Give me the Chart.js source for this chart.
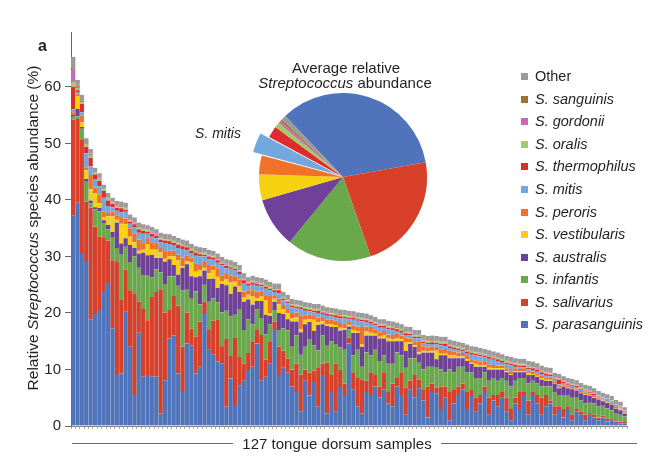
<!DOCTYPE html>
<html>
<head>
<meta charset="utf-8">
<script src="https://cdn.jsdelivr.net/npm/chart.js@4.4.1/dist/chart.umd.min.js"></script>
<style>
  html, body { margin: 0; padding: 0; background: #fff; }
  #wrap { position: relative; width: 655px; height: 465px; overflow: hidden; }
  #main { position: absolute; left: 0; top: 0; }
  #pie { position: absolute; left: 243px; top: 77px; }
  .t { position: absolute; font-family: 'Liberation Sans', Arial, Helvetica, sans-serif; color: #231f20; white-space: nowrap; line-height: 1; }
  .c { transform: translate(-50%, -50%); }
  .sw { position: absolute; width: 7px; height: 7px; }
  .hl { position: absolute; height: 1px; background: #666; }
</style>
</head>
<body>
<div id="wrap">
  <canvas id="main" width="655" height="465"></canvas>
  <canvas id="pie" width="200" height="200"></canvas>
  <div class="t" style="left:38px;top:38px;font-size:16px;font-weight:bold;">a</div>
  <div class="t" style="left:33px;top:228px;font-size:15.5px;transform:translate(-50%,-50%) rotate(-90deg);">Relative <i>Streptococcus</i> species abundance (%)</div>
  <div class="t c" style="left:346px;top:67px;font-size:15px;">Average relative</div>
  <div class="t c" style="left:345px;top:82px;font-size:15px;"><i>Streptococcus</i> abundance</div>
  <div class="t c" style="left:218px;top:133px;font-size:14px;font-style:italic;">S. mitis</div>
  <div class="hl" style="left:72px;top:443px;width:161px;"></div>
  <div class="hl" style="left:441px;top:443px;width:196px;"></div>
  <div class="t c" style="left:337px;top:443px;font-size:15px;">127 tongue dorsum samples</div>
  <div id="legend"></div>
</div>
<script>
// ---------- DATA ----------
const samples = [1,2,3,4,5,6,7,8,9,10,11,12,13,14,15,16,17,18,19,20,21,22,23,24,25,26,27,28,29,30,31,32,33,34,35,36,37,38,39,40,41,42,43,44,45,46,47,48,49,50,51,52,53,54,55,56,57,58,59,60,61,62,63,64,65,66,67,68,69,70,71,72,73,74,75,76,77,78,79,80,81,82,83,84,85,86,87,88,89,90,91,92,93,94,95,96,97,98,99,100,101,102,103,104,105,106,107,108,109,110,111,112,113,114,115,116,117,118,119,120,121,122,123,124,125,126,127];

const parasanguinis = [37.2,39.5,30.6,29.2,18.9,19.8,20.5,23.9,25.3,17.3,
 9.0,9.3,20.2,14.0,5.5,16.5,8.7,9.0,8.8,8.7,
 2.2,8.1,15.5,16.0,9.3,6.0,14.6,14.2,9.3,10.5,
 20.0,13.5,12.6,11.4,11.1,3.4,8.4,3.7,7.2,8.0,
 9.9,10.5,14.6,8.1,8.7,11.0,17.0,9.0,10.3,9.4,
 7.0,6.0,2.6,8.0,5.4,7.8,3.4,9.0,2.2,6.0,
 2.5,6.9,5.5,14.6,6.5,3.5,2.2,6.0,5.5,7.0,
 5.0,6.5,4.0,3.5,7.0,5.5,2.0,6.5,5.0,6.7,
 4.5,1.5,6.0,5.8,3.0,5.0,1.0,4.0,5.5,6.5,
 3.0,5.5,2.5,4.0,6.0,2.0,4.5,3.5,5.0,2.5,
 1.0,4.0,3.0,5.5,2.0,5.5,4.0,2.0,3.5,4.0,
 2.0,3.0,1.5,3.0,1.0,2.5,2.0,1.0,2.0,1.5,
 1.0,1.5,0.8,1.0,0.8,0.5,0.5];

const salivarius = [17.0,14.8,20.0,10.5,19.7,15.5,13.0,9.5,7.5,12.0,
 20.0,13.0,7.5,10.0,18.0,5.5,12.0,9.7,14.0,15.0,
 22.0,12.0,5.0,7.0,12.0,8.0,5.5,3.0,6.5,8.0,
 2.0,3.5,6.0,7.5,3.0,12.0,4.0,12.0,5.0,3.0,
 3.0,4.5,2.5,8.0,3.0,4.0,1.5,5.0,3.0,2.5,
 3.0,5.0,6.5,2.0,4.0,2.0,7.0,2.0,9.0,3.0,
 8.5,3.0,2.0,1.0,3.0,5.0,6.0,2.0,4.0,2.0,
 2.0,3.0,2.0,4.0,1.5,4.0,4.8,1.5,4.0,1.5,
 2.0,5.5,1.5,1.0,4.0,2.0,5.0,2.5,1.5,1.0,
 3.0,1.0,2.5,1.5,1.0,3.0,1.0,2.0,1.0,2.5,
 2.0,1.0,3.0,0.5,2.5,0.5,1.5,3.0,2.0,0.5,
 1.5,0.5,1.5,0.5,1.0,0.5,0.5,1.0,0.3,0.5,
 0.5,0.3,0.5,0.3,0.2,0.3,0.2];

const infantis = [0.5,0.5,2.0,3.5,0.8,3.0,4.5,2.5,2.0,4.0,
 2.5,8.0,4.0,5.0,6.5,6.0,6.0,8.0,3.5,4.0,
 3.0,5.0,6.0,3.5,3.5,10.0,4.0,5.3,8.0,3.0,
 3.0,5.0,4.0,3.0,6.0,5.0,7.0,4.0,8.5,6.0,
 6.0,3.0,3.5,3.0,4.5,3.0,2.0,3.0,4.0,5.0,
 4.0,5.0,3.5,4.0,6.0,4.5,3.0,5.0,3.0,6.0,
 3.5,4.0,6.0,1.5,3.0,5.0,2.3,5.0,3.0,4.5,
 4.5,3.0,5.0,3.5,4.5,3.0,3.5,4.0,3.0,3.0,
 3.5,3.5,3.0,3.5,3.0,2.5,4.0,3.0,3.5,3.0,
 3.5,3.0,3.5,3.0,2.5,3.0,3.0,2.5,2.5,3.0,
 4.0,3.0,2.5,2.5,3.0,2.0,2.0,2.0,1.5,2.5,
 2.5,2.0,2.5,2.0,3.0,2.0,2.0,2.0,1.8,2.0,
 2.0,1.8,1.8,1.5,1.3,1.2,1.0];

const australis = [0.3,1.3,0.3,0.5,0.5,0.4,0.6,0.5,0.8,1.0,
 4.5,2.0,1.5,3.0,1.5,2.5,4.0,3.5,4.0,2.0,
 2.5,4.0,3.0,2.0,2.0,4.0,4.5,4.0,2.5,5.0,
 2.5,4.0,3.5,2.5,5.0,4.5,4.0,5.0,3.0,5.0,
 3.5,3.5,1.5,3.0,3.5,1.5,1.5,3.0,2.5,2.0,
 4.5,2.5,4.0,4.0,3.0,2.5,4.5,2.0,3.5,2.5,
 3.0,3.0,3.5,0.5,4.0,3.0,3.5,3.0,3.5,2.5,
 4.0,3.0,4.0,4.0,2.0,2.5,3.0,2.5,2.0,1.5,
 3.0,2.5,2.5,1.5,2.5,3.0,2.0,2.5,1.5,1.5,
 2.0,1.5,2.0,2.0,1.0,2.0,1.5,2.0,1.5,1.5,
 2.0,1.5,1.0,1.0,1.5,1.0,1.2,1.2,1.0,1.0,
 1.5,1.2,1.5,1.2,1.5,1.3,1.3,1.5,1.3,1.0,
 1.2,0.8,1.0,1.0,0.8,0.8,0.5];

const vestibularis = [0.0,2.3,0.8,1.5,2.0,2.5,0.8,0.5,1.5,2.8,
 0.5,3.5,2.5,1.5,1.0,0.5,0.5,2.0,1.0,1.5,
 1.0,0.5,0.5,1.5,2.5,0.3,0.5,2.5,1.0,1.0,
 0.5,1.0,1.5,2.0,0.5,1.0,2.0,0.8,1.0,0.8,
 0.8,1.5,0.5,0.8,2.5,0.5,0.5,1.5,0.8,1.0,
 0.5,0.8,0.5,0.8,0.5,2.0,0.5,0.5,0.3,0.5,
 0.3,0.5,0.3,0.3,0.5,0.3,0.5,0.8,0.5,0.3,
 0.3,0.5,0.5,0.3,0.5,0.3,1.5,0.3,0.3,0.3,
 0.3,0.2,0.3,1.5,0.3,0.3,0.5,0.5,0.3,0.3,
 0.3,0.2,0.5,0.3,0.2,0.3,0.2,0.2,0.2,0.2,
 0.2,0.2,0.2,0.2,0.3,0.2,0.2,0.3,0.2,0.2,
 0.1,0.2,0.1,0.1,0.1,0.1,0.1,0.1,0.1,0.1,
 0.1,0.1,0.1,0.1,0.1,0.1,0.1];

const peroris = [0.5,0.3,1.2,0.5,2.5,1.0,1.5,1.0,0.6,0.8,
 0.8,1.0,1.0,1.5,1.5,2.0,1.0,1.0,1.2,1.0,
 0.8,1.2,1.0,1.0,1.0,1.5,1.0,0.8,1.5,1.0,
 1.0,1.5,0.8,1.5,1.0,1.0,1.2,1.0,1.2,1.0,
 0.8,1.0,1.2,0.8,0.8,3.0,0.5,1.0,0.8,0.8,
 1.0,0.8,2.5,0.8,0.8,0.8,0.8,0.8,0.8,0.8,
 0.8,0.8,0.8,0.5,0.8,0.8,3.0,0.8,1.0,0.8,
 0.8,0.8,0.7,0.8,0.8,0.7,0.8,0.7,0.7,2.0,
 0.8,0.7,0.7,0.7,0.7,0.8,0.8,0.7,0.7,0.6,
 0.6,0.6,0.6,0.6,0.6,0.6,0.6,0.5,0.5,0.5,
 0.5,0.5,0.4,0.5,0.4,0.4,0.4,0.4,0.4,0.3,
 0.3,0.3,0.3,0.3,0.3,0.3,0.3,0.3,0.2,0.2,
 0.2,0.2,0.2,0.2,0.2,0.2,0.1];

const mitis = [0.5,0.4,0.6,2.5,1.5,1.5,1.5,2.5,1.2,0.8,
 0.8,1.0,1.2,0.8,1.2,1.2,1.8,0.8,1.0,1.0,
 1.0,1.5,1.2,1.0,1.2,1.5,1.0,0.8,1.3,1.5,
 1.0,1.0,1.0,1.0,1.8,1.0,1.2,1.0,1.0,1.5,
 0.8,1.0,1.0,1.0,1.3,1.0,0.7,1.0,0.8,1.0,
 1.0,0.7,1.0,0.8,0.6,0.5,0.8,0.5,0.7,0.6,
 0.7,0.8,0.9,0.5,1.0,1.0,1.0,0.7,0.6,0.7,
 0.8,0.6,0.9,0.8,0.5,0.5,0.5,0.5,0.5,0.5,
 0.5,0.5,0.5,0.4,0.8,0.5,0.5,0.4,0.4,0.3,
 0.5,0.8,0.9,0.9,0.8,1.0,0.9,0.8,0.5,0.7,
 1.0,0.3,0.3,0.2,0.3,0.3,0.3,0.3,0.3,0.3,
 0.3,0.2,0.2,0.2,0.2,0.2,0.2,0.2,0.2,0.2,
 0.2,0.2,0.2,0.2,0.2,0.2,0.1];

const thermophilus = [4.0,0.3,1.5,1.2,1.5,0.8,1.0,1.2,1.0,0.6,
 0.5,0.7,0.4,0.3,0.5,0.6,0.5,0.4,0.5,0.4,
 0.5,0.5,0.5,0.4,0.6,0.5,0.5,0.4,0.5,0.4,
 0.3,0.5,0.4,0.4,0.3,0.4,0.3,0.3,0.4,0.5,
 0.3,0.4,0.3,0.3,0.4,0.3,0.3,0.5,0.3,0.3,
 0.3,0.3,0.4,0.3,0.3,0.3,0.4,0.3,0.3,0.3,
 0.3,0.4,0.3,0.3,0.3,0.3,0.3,0.4,0.3,0.3,
 0.3,0.3,0.3,0.4,0.3,0.3,0.3,0.3,0.3,0.3,
 0.3,0.3,0.3,0.3,0.3,0.5,0.3,0.3,0.3,0.3,
 0.3,0.3,0.3,0.3,0.3,0.3,0.3,0.3,0.3,0.3,
 0.3,0.3,0.3,0.3,0.3,0.3,0.3,0.3,0.3,0.3,
 0.2,0.8,0.2,0.2,0.2,0.2,0.2,0.2,0.2,0.2,
 0.1,0.1,0.1,0.1,0.1,0.1,0.1];

const oralis = [0.8,0.4,0.3,0.3,0.4,0.2,0.3,0.2,0.3,0.2,
 0.2,0.2,0.2,0.2,0.2,0.2,0.2,0.2,0.2,0.2,
 0.2,0.2,0.2,0.2,0.2,0.2,0.2,0.2,0.2,0.2,
 0.2,0.2,0.2,0.2,0.2,0.2,0.2,0.2,0.2,0.2,
 0.2,0.2,0.2,0.2,0.2,0.2,0.2,0.2,0.2,0.2,
 0.2,0.2,0.2,0.2,0.2,0.2,0.2,0.2,0.2,0.2,
 0.2,0.2,0.2,0.2,0.2,0.2,0.2,0.2,0.2,0.2,
 0.2,0.2,0.2,0.2,0.2,0.2,0.2,0.2,0.2,0.2,
 0.2,0.2,0.2,0.2,0.2,0.2,0.2,0.2,0.2,0.2,
 0.2,0.2,0.2,0.2,0.2,0.2,0.2,0.2,0.2,0.2,
 0.2,0.2,0.2,0.2,0.2,0.2,0.2,0.2,0.2,0.2,
 0.1,0.1,0.1,0.1,0.1,0.1,0.1,0.1,0.1,0.1,
 0.1,0.1,0.1,0.1,0.1,0.1,0.1];

const gordonii = [2.2,0.4,0.2,0.1,0.2,0.1,0.1,0.1,0.1,0.1,
 0.1,0.1,0.1,0.1,0.1,0.1,0.1,0.1,0.1,0.1,
 0.1,0.1,0.1,0.1,0.1,0.1,0.1,0.1,0.1,0.1,
 0.1,0.1,0.1,0.1,0.1,0.1,0.1,0.1,0.1,0.1,
 0.1,0.1,0.1,0.1,0.1,0.1,0.1,0.1,0.1,0.1,
 0.1,0.1,0.1,0.1,0.1,0.1,0.1,0.1,0.1,0.1,
 0.1,0.1,0.1,0.1,0.1,0.1,0.1,0.1,0.1,0.1,
 0.1,0.1,0.1,0.1,0.1,0.1,0.1,0.1,0.1,0.1,
 0.1,0.1,0.1,0.1,0.1,0.1,0.1,0.1,0.1,0.1,
 0.1,0.1,0.1,0.1,0.1,0.1,0.1,0.1,0.1,0.1,
 0.1,0.1,0.1,0.1,0.1,0.1,0.1,0.1,0.1,0.1,
 0.05,0.05,0.05,0.05,0.05,0.05,0.05,0.05,0.05,0.05,
 0.05,0.05,0.05,0.05,0.05,0.05,0.05];

const sanguinis = [0.3,0.2,0.1,0.1,0.2,0.1,0.1,0.1,0.1,0.1,
 0.1,0.1,0.1,0.1,0.1,0.1,0.1,0.1,0.1,0.1,
 0.1,0.1,0.1,0.1,0.1,0.1,0.1,0.1,0.1,0.1,
 0.1,0.1,0.1,0.1,0.1,0.1,0.1,0.1,0.1,0.1,
 0.1,0.1,0.1,0.1,0.1,0.1,0.1,0.1,0.1,0.1,
 0.1,0.1,0.1,0.1,0.1,0.1,0.1,0.1,0.1,0.1,
 0.1,0.1,0.1,0.1,0.1,0.1,0.1,0.1,0.1,0.1,
 0.1,0.1,0.1,0.1,0.1,0.1,0.1,0.1,0.1,0.1,
 0.1,0.1,0.1,0.1,0.1,0.1,0.1,0.1,0.1,0.1,
 0.1,0.1,0.1,0.1,0.1,0.1,0.1,0.1,0.1,0.1,
 0.1,0.1,0.1,0.1,0.1,0.1,0.1,0.1,0.1,0.1,
 0.05,0.05,0.05,0.05,0.05,0.05,0.05,0.05,0.05,0.05,
 0.05,0.05,0.05,0.05,0.05,0.05,0.05];

const other = [2.0,0.8,1.0,1.0,0.8,0.8,0.8,0.7,0.8,0.7,
 0.8,0.8,0.8,0.9,0.8,0.8,0.8,0.7,0.8,0.8,
 0.8,0.8,0.8,0.8,0.8,0.8,0.8,0.8,0.8,0.8,
 0.8,0.8,0.8,0.8,0.8,0.8,0.8,0.8,0.8,0.8,
 0.8,0.8,0.8,0.8,0.8,0.8,0.8,0.8,0.8,0.8,
 0.8,0.8,0.8,0.8,0.8,0.8,0.8,0.8,0.8,0.8,
 0.8,0.8,0.8,0.8,0.8,0.8,0.8,0.8,0.8,0.8,
 0.8,0.8,0.8,0.8,0.8,0.8,0.8,0.8,0.8,0.8,
 0.8,0.8,0.8,0.8,0.8,0.8,0.8,0.8,0.8,0.8,
 0.8,0.8,0.8,0.8,0.8,0.8,0.8,0.8,0.8,0.8,
 0.8,0.8,0.8,0.8,0.8,0.8,0.8,0.8,0.8,0.8,
 0.8,0.8,0.8,0.8,0.8,0.8,0.8,0.8,0.8,0.8,
 0.7,0.7,0.7,0.7,0.7,0.7,0.5];

// Legend / series names (bottom of stack first)
const speciesNames = ['S. parasanguinis','S. salivarius','S. infantis','S. australis','S. vestibularis','S. peroris','S. mitis','S. thermophilus','S. oralis','S. gordonii','S. sanguinis','Other'];
const speciesColors = ['#4f74bb','#d8402a','#6aa94b','#6f4199','#f6d10f','#f1712a','#72a8dc','#df2a2e','#9ecd66','#c76cb4','#9e7434','#9a9a9a'];

// Pie: average relative abundance (%)
const pieValues = [34.3, 22.5, 16.3, 9.6, 5.0, 3.6, 3.8, 2.2, 1.0, 0.5, 0.4, 0.9];

// Y axis ticks
const yTickStep = 10;
const yMax = 69.7;

// ---------- CHART ----------
const seriesData = [parasanguinis, salivarius, infantis, australis, vestibularis, peroris, mitis, thermophilus, oralis, gordonii, sanguinis, other];

new Chart(document.getElementById('main'), {
  type: 'bar',
  data: {
    labels: samples,
    datasets: seriesData.map((d, i) => ({
      label: speciesNames[i],
      data: d,
      backgroundColor: speciesColors[i],
      borderColor: 'rgba(30,30,50,0.28)',
      borderWidth: { left: 0, right: 0.6, top: 0, bottom: 0 },
      borderSkipped: false,
      barPercentage: 1,
      categoryPercentage: 1
    }))
  },
  options: {
    responsive: false,
    animation: false,
    layout: { padding: { top: 32, right: 28, left: 0, bottom: 0 } },
    plugins: { legend: { display: false }, tooltip: { enabled: false }, title: { display: false } },
    scales: {
      x: {
        stacked: true,
        afterFit: (s) => { s.height = 39; },
        ticks: { display: false },
        grid: { drawOnChartArea: false, drawTicks: true, tickLength: 3, color: '#888', lineWidth: 0.7, offset: true },
        border: { display: true, color: '#888', width: 1 }
      },
      y: {
        stacked: true,
        min: 0,
        max: yMax,
        afterFit: (s) => { s.width = 71; },
        ticks: { stepSize: yTickStep, includeBounds: false, color: '#231f20', padding: 4,
                 font: { family: "'Liberation Sans', Arial, sans-serif", size: 15 } },
        grid: { drawOnChartArea: false, drawTicks: true, tickLength: 6, color: '#666', lineWidth: 1 },
        border: { display: true, color: '#666', width: 1 }
      }
    }
  }
});

new Chart(document.getElementById('pie'), {
  type: 'pie',
  data: {
    labels: speciesNames,
    datasets: [{
      data: pieValues,
      backgroundColor: speciesColors,
      borderWidth: 0,
      offset: [0, 0, 0, 0, 0, 0, 21, 0, 0, 0, 0, 0]
    }]
  },
  options: {
    responsive: false,
    animation: false,
    rotation: -43.5,
    radius: 84,
    layout: { padding: 0 },
    plugins: { legend: { display: false }, tooltip: { enabled: false } }
  }
});

// ---------- LEGEND (HTML, italic species names) ----------
const legend = document.getElementById('legend');
for (let k = 0; k < speciesNames.length; k++) {
  const idx = speciesNames.length - 1 - k;
  const yc = 76.7 + 22.55 * k;
  const sw = document.createElement('div');
  sw.className = 'sw';
  sw.style.left = '521px';
  sw.style.top = (yc - 3.5) + 'px';
  sw.style.background = speciesColors[idx];
  legend.appendChild(sw);
  const tx = document.createElement('div');
  tx.className = 't';
  tx.style.left = '535px';
  tx.style.top = (yc - 7.5) + 'px';
  tx.style.fontSize = '14.5px';
  if (speciesNames[idx] !== 'Other') tx.style.fontStyle = 'italic';
  tx.textContent = speciesNames[idx];
  legend.appendChild(tx);
}
</script>
</body>
</html>
